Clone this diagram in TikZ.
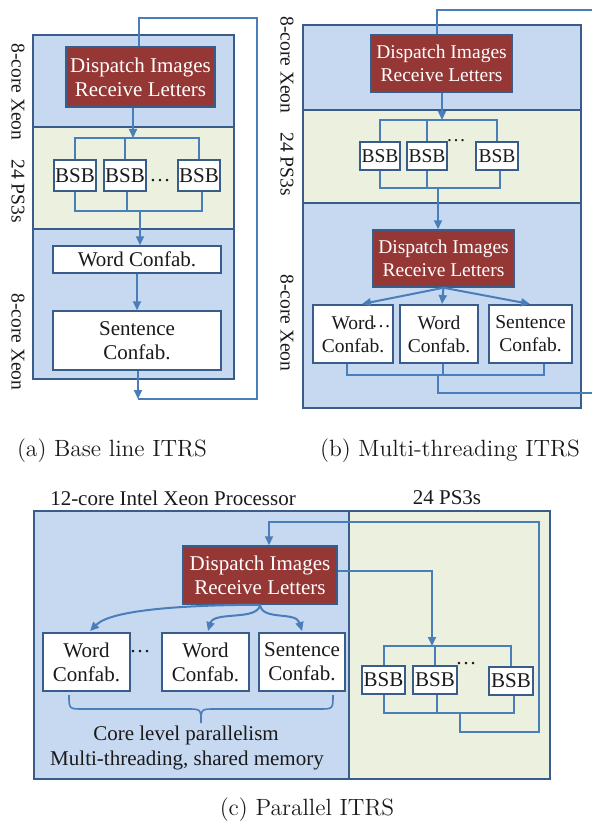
\documentclass[tikz,border=0pt]{standalone}
\usepackage{fontspec}
\setmainfont{Liberation Serif}
\newfontfamily\capfont{lmroman12-regular.otf}
\usetikzlibrary{arrows.meta}

\definecolor{bluec}{HTML}{C6D9F1}
\definecolor{greenc}{HTML}{EBF1DE}
\definecolor{framec}{HTML}{385D8A}
\definecolor{linkc}{HTML}{4A7EBB}
\definecolor{redc}{HTML}{953735}
\definecolor{inkc}{HTML}{1A1A1A}

\tikzset{
  link/.style={draw=linkc, line width=2pt},
  arr/.style={-{Triangle[length=9pt,width=8pt]}},
  panelb/.style={draw=framec, fill=bluec, line width=1.5pt},
  panelg/.style={draw=framec, fill=greenc, line width=1.5pt},
  dispbox/.style={draw=framec, fill=redc, text=white, line width=1.5pt,
    align=center, inner sep=0pt},
  wbox/.style={draw=framec, fill=white, line width=1.5pt, align=center,
    inner sep=0pt, text=inkc},
  bsb/.style={wbox, minimum width=42pt, minimum height=31pt},
  sidelab/.style={rotate=-90, inner sep=0pt, text=inkc, font=\fontsize{19.5}{22}\selectfont},
  plain/.style={inner sep=0pt, text=inkc},
  fontA/.style={font=\fontsize{21}{24}\selectfont},
  fontB/.style={font=\fontsize{19.5}{23}\selectfont},
  caption/.style={inner sep=0pt, text=inkc, font=\capfont\fontsize{23.5}{26}\selectfont},
}

\begin{document}
\begin{tikzpicture}[x=1pt, y=-1pt, line join=miter]
\useasboundingbox[fill=white] (0,0) rectangle (592,824);

% ---------------- (a) baseline pipeline ----------------
\begin{scope}[fontA]
\draw[panelb] (33,35) rectangle (234,127);
\draw[panelg] (33,127) rectangle (234,229);
\draw[panelb] (33,229) rectangle (234,379);

\node[sidelab] (aL1) at (18,92) {8-core Xeon};
\node[sidelab] (aL2) at (18,191) {24 PS3s};
\node[sidelab] (aL3) at (18,342) {8-core Xeon};

\node[dispbox, minimum width=149pt, minimum height=60pt] (aDisp) at (140.5,77)
  {Dispatch Images\\Receive Letters};
\node[bsb] (aB1) at (75,175.5) {BSB};
\node[bsb] (aB2) at (125,175.5) {BSB};
\node[bsb] (aB3) at (199,175.5) {BSB};
\node[plain] (aDots) at (160,181) {\dots};
\node[wbox, minimum width=168pt, minimum height=27pt] (aWord) at (137,259.5) {Word Confab.};
\node[wbox, minimum width=168pt, minimum height=59pt] (aSent) at (137,340.5) {Sentence\\Confab.};

\coordinate (aT) at (133,138);
\coordinate (aBus) at (140,211);
\coordinate (aOut) at (138,399);
\coordinate (aR) at (257,399);
\coordinate (aRT) at (257,18);
\coordinate (aLT) at (139,18);

\draw[link,arr] (aT |- aDisp.south) -- (aT);
\draw[link] (aB1.north) |- (aT) -| (aB3.north);
\draw[link] (aB2.north) -- (aB2.north |- aT);
\draw[link] (aB1.south) |- (aBus) -| ([xshift=3pt]aB3.south);
\draw[link] ([xshift=2pt]aB2.south) -- ([xshift=2pt]aB2.south |- aBus);
\draw[link,arr] (aBus) -- (aBus |- aWord.north);
\draw[link,arr] (aWord.south) -- (aSent.north);
\draw[link,arr] (aOut |- aSent.south) -- (aOut);
\draw[link] (aOut) -- (aR) -- (aRT) -- (aLT) -- (aLT |- aDisp.north);
\end{scope}

% ---------------- (b) multi-threading pipeline ----------------
\begin{scope}[fontB]
\draw[panelb] (303,25) rectangle (581,110);
\draw[panelg] (303,110) rectangle (581,203);
\draw[panelb] (303,203) rectangle (581,408);

\node[sidelab] (bL1) at (287,65) {8-core Xeon};
\node[sidelab] (bL2) at (287,164) {24 PS3s};
\node[sidelab] (bL3) at (287,323) {8-core Xeon};

\node[dispbox, minimum width=141pt, minimum height=57pt] (bDispA) at (441.5,63.5)
  {Dispatch Images\\Receive Letters};
\node[bsb, minimum width=40pt, minimum height=28pt] (bB1) at (380,156) {BSB};
\node[bsb, minimum width=40pt, minimum height=28pt] (bB2) at (427,156) {BSB};
\node[bsb, minimum width=42pt, minimum height=28pt] (bB3) at (497,156) {BSB};
\node[plain] (bDots) at (456,141) {\dots};

\node[dispbox, minimum width=141pt, minimum height=57pt] (bDispB) at (443.5,258.5)
  {Dispatch Images\\Receive Letters};
\node[wbox, minimum width=80pt, minimum height=58pt] (bW1) at (353,334)
  {Word\rlap{\raisebox{2pt}{\kern-3pt\dots}}\\Confab.};
\node[wbox, minimum width=78pt, minimum height=58pt] (bW2) at (439,334) {Word\\Confab.};
\node[wbox, minimum width=83pt, minimum height=58pt] (bS) at (530.5,334) {Sentence\\Confab.};

\coordinate (bT) at (442,120);
\coordinate (bBus) at (438,188);
\draw[link,arr] (bT |- bDispA.south) -- (bT);
\draw[link] (bB1.north) |- (bT) -| (bB3.north);
\draw[link] (bB2.north) -- (bB2.north |- bT);
\draw[link] (bB1.south) |- (bBus) -| ([xshift=3pt]bB3.south);
\draw[link] (bB2.south) -- (bB2.south |- bBus);
\draw[link,arr] (bBus) -- (bBus |- bDispB.north);

\coordinate (bW1t) at (362,304);
\coordinate (bW2t) at (442,304);
\coordinate (bSt) at (530,304);
\draw[link,arr] (bDispB.south) -- (bW1t);
\draw[link,arr] (bDispB.south) -- (bW2t);
\draw[link,arr] (bDispB.south) -- (bSt);

\coordinate (bJ1) at (347,375);
\coordinate (bJ2) at (443,375);
\coordinate (bJ3) at (544,375);
\coordinate (bBus2) at (438,375);
\coordinate (bOut) at (438,393);
\coordinate (bEdgeB) at (592,393);
\coordinate (bEdgeT) at (592,10);
\coordinate (bTop) at (437,10);
\draw[link, line width=2.5pt] (bJ1 |- bW1.south) -- (bJ1) -- (bJ3) -- (bJ3 |- bS.south);
\draw[link] (bJ2 |- bW2.south) -- (bJ2);
\draw[link] (bBus2) -- (bOut) -- (bEdgeB);
\draw[link] (bEdgeT) -- (bTop) -- (bTop |- bDispA.north);
\end{scope}

% ---------------- (c) parallel pipeline ----------------
\begin{scope}[fontA]
\draw[panelb] (34,511) rectangle (349,779);
\draw[panelg] (349,511) rectangle (550,779);

\node[plain] (cTitleL) at (173,498) {12-core Intel Xeon Processor};
\node[plain] (cTitleR) at (447,498) {24 PS3s};

\node[dispbox, minimum width=154pt, minimum height=58pt] (cDisp) at (260,575)
  {Dispatch Images\\Receive Letters};
\node[wbox, minimum width=87pt, minimum height=58pt] (cW1) at (86.5,662) {Word\\Confab.};
\node[wbox, minimum width=87pt, minimum height=58pt] (cW2) at (205.5,662) {Word\\Confab.};
\node[wbox, minimum width=86pt, minimum height=58pt] (cS) at (302,662) {Sentence\\Confab.};
\node[plain] (cDots2) at (140,652) {\dots};

\node[bsb, minimum width=43pt, minimum height=28pt] (cB1) at (383.5,680) {BSB};
\node[bsb, minimum width=44pt, minimum height=28pt] (cB2) at (435,680) {BSB};
\node[bsb, minimum width=44pt, minimum height=28pt] (cB3) at (511,681) {BSB};
\node[plain] (cDots) at (466,664) {\dots};

\node[plain] (cNote1) at (186,735) {Core level parallelism};
\node[plain] (cNote2) at (187,760) {Multi-threading, shared memory};

% feedback loop from the PS3 bus back to the dispatcher
\coordinate (cLoopL) at (269,522);
\coordinate (cLoopR) at (539,522);
\coordinate (cLoopRB) at (539,732);
\coordinate (cLoopB) at (460,732);
\coordinate (cBus) at (460,713);
\coordinate (cT) at (432,646);
\draw[link,arr] (cBus) -- (cLoopB) -- (cLoopRB) -- (cLoopR) -- (cLoopL) -- (cLoopL |- cDisp.north);
\draw[link,arr] ([yshift=4pt]cDisp.east) -| (cT);
\draw[link] (cB1.north) |- (cT) -| (cB3.north);
\draw[link] (cB2.north) -- (cB2.north |- cT);
\draw[link] (cB1.south) |- (cBus) -| ([xshift=3pt]cB3.south);
\draw[link] ([xshift=2pt]cB2.south) -- ([xshift=2pt]cB2.south |- cBus);

% fan-out to the confabulation threads
\coordinate (cW1t) at (90,631);
\coordinate (cW2t) at (208,631);
\coordinate (cSt) at (302,631);
\draw[link,arr] (cDisp.south) .. controls (190,605) and (112,609) .. (cW1t);
\draw[link,arr] (cDisp.south) .. controls (258,621) and (214,611) .. (cW2t);
\draw[link,arr] (cDisp.south) .. controls (262,621) and (296,611) .. (cSt);

% brace under the threads
\draw[link, line width=1.6pt] (69,695) .. controls (69,709) .. (83,709) -- (187,709)
  .. controls (201,709) .. (201,723) .. controls (201,709) .. (215,709) -- (319,709)
  .. controls (333,709) .. (333,695);
\end{scope}

% ---------------- captions ----------------
\node[caption] (capA) at (112,451) {(a) Base line ITRS};
\node[caption] (capB) at (450,451) {(b) Multi-threading ITRS};
\node[caption] (capC) at (307,810) {(c) Parallel ITRS};
\end{tikzpicture}
\end{document}
